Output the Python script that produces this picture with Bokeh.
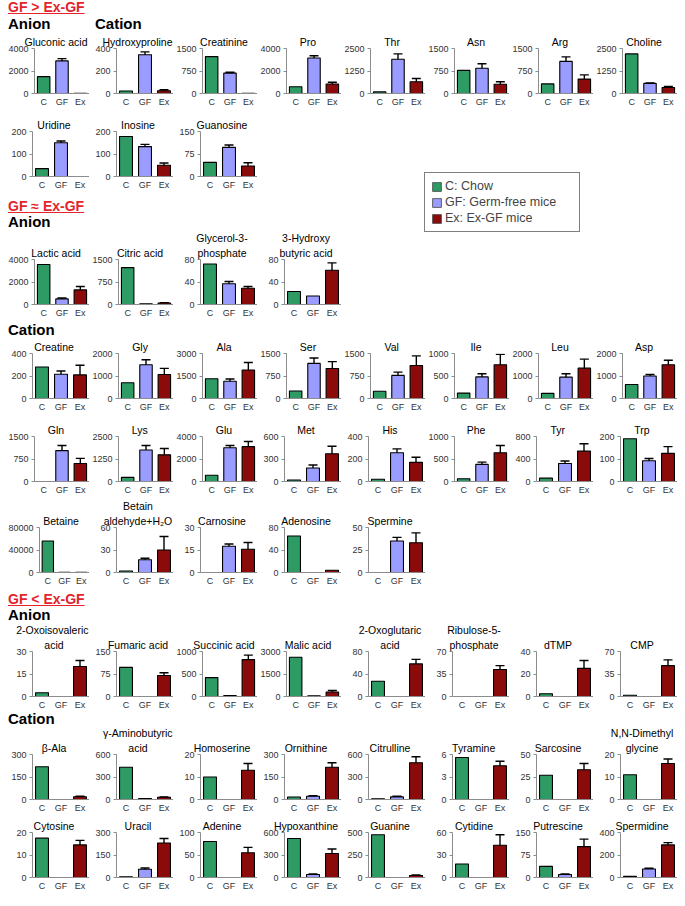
from bokeh.plotting import figure
from bokeh.layouts import column, row
from bokeh.models import (Div, Range1d, FactorRange, FixedTicker, ColumnDataSource, Whisker,
                          TeeHead, Legend, LegendItem, NumeralTickFormatter, Spacer, Title)
from bokeh.embed import file_html
from bokeh.resources import INLINE

FONT = "Liberation Sans"
CATS = ["C", "GF", "Ex"]
COLORS = ["#2e9a64", "#9a9cff", "#8b0a0a"]
LEGEND_LABELS = ["C: Chow", "GF: Germ-free mice", "Ex: Ex-GF mice"]

# ---------------- data ----------------
# GF > Ex-GF
s1r1_names = ["Gluconic acid", "Hydroxyproline", "Creatinine", "Pro", "Thr", "Asn", "Arg", "Choline"]
s1r1_ymax = [4000, 400, 1500, 4000, 2500, 1500, 1500, 2500]
s1r1_C = [1500, 22, 1230, 600, 90, 770, 320, 2200]
s1r1_GF = [2900, 345, 680, 3150, 1900, 840, 1070, 560]
s1r1_Ex = [20, 25, 8, 850, 650, 310, 480, 330]
s1r1_GFerr = [200, 25, 30, 200, 300, 150, 150, 30]
s1r1_Exerr = [0, 8, 0, 150, 180, 80, 140, 60]

s1r2_names = ["Uridine", "Inosine", "Guanosine"]
s1r2_ymax = [200, 200, 150]
s1r2_C = [35, 178, 47]
s1r2_GF = [150, 133, 97]
s1r2_Ex = [0, 50, 35]
s1r2_GFerr = [8, 10, 8]
s1r2_Exerr = [0, 10, 11]

# GF ~ Ex-GF
s2r1_names = ["Lactic acid", "Citric acid", "Glycerol-3-\nphosphate", "3-Hydroxy\nbutyric acid"]
s2r1_ymax = [4000, 1500, 80, 80]
s2r1_C = [3550, 1230, 72, 23]
s2r1_GF = [500, 25, 37, 15]
s2r1_Ex = [1300, 50, 29, 61]
s2r1_GFerr = [80, 0, 4, 0]
s2r1_Exerr = [300, 10, 3, 13]

s2r2_names = ["Creatine", "Gly", "Ala", "Ser", "Val", "Ile", "Leu", "Asp"]
s2r2_ymax = [400, 2000, 3000, 1500, 1500, 1000, 2000, 2000]
s2r2_C = [280, 700, 1320, 250, 240, 120, 230, 620]
s2r2_GF = [215, 1500, 1150, 1170, 770, 480, 950, 1000]
s2r2_Ex = [210, 1070, 1900, 1000, 1100, 750, 1350, 1500]
s2r2_GFerr = [30, 220, 150, 180, 110, 70, 150, 70]
s2r2_Exerr = [85, 270, 500, 230, 320, 230, 400, 200]

s2r3_names = ["Gln", "Lys", "Glu", "Met", "His", "Phe", "Tyr", "Trp"]
s2r3_ymax = [1500, 2500, 4000, 600, 400, 1000, 800, 200]
s2r3_C = [0, 230, 550, 20, 20, 60, 60, 190]
s2r3_GF = [1030, 1750, 3000, 180, 255, 380, 320, 92]
s2r3_Ex = [600, 1480, 3100, 370, 170, 640, 540, 125]
s2r3_GFerr = [170, 250, 200, 40, 35, 50, 45, 10]
s2r3_Exerr = [170, 350, 450, 100, 45, 160, 130, 30]

s2r4_names = ["Betaine", "Betain\naldehyde+H\u2082O", "Carnosine", "Adenosine", "Spermine"]
s2r4_ymax = [80000, 60, 30, 80, 50]
s2r4_C = [56000, 2, 0, 65, 0]
s2r4_GF = [500, 17, 17.5, 0, 35]
s2r4_Ex = [500, 30, 15.5, 4, 33]
s2r4_GFerr = [0, 2, 1.5, 0, 4]
s2r4_Exerr = [0, 18, 4.5, 0, 11]

# GF < Ex-GF
s3r1_names = ["2-Oxoisovaleric\nacid", "Fumaric acid", "Succinic acid", "Malic acid",
              "2-Oxoglutaric\nacid", "Ribulose-5-\nphosphate", "dTMP", "CMP"]
s3r1_ymax = [30, 150, 1000, 3000, 80, 70, 40, 70]
s3r1_C = [2.5, 97, 420, 2620, 27, 0, 2.5, 2]
s3r1_GF = [0, 0, 20, 50, 0, 0, 0, 0]
s3r1_Ex = [20, 70, 820, 300, 58, 42, 25, 48]
s3r1_GFerr = [0, 0, 0, 0, 0, 0, 0, 0]
s3r1_Exerr = [4, 9, 100, 100, 8, 6, 7, 9]

s3r2_names = ["\u03b2-Ala", "\u03b3-Aminobutyric\nacid", "Homoserine", "Ornithine", "Citrulline",
              "Tyramine", "Sarcosine", "N,N-Dimethyl\nglycine"]
s3r2_ymax = [300, 600, 20, 300, 600, 6, 50, 20]
s3r2_C = [218, 430, 10, 17, 10, 5.6, 27, 11]
s3r2_GF = [0, 12, 0, 22, 35, 0, 0, 0]
s3r2_Ex = [18, 30, 13, 215, 490, 4.5, 33, 16]
s3r2_GFerr = [0, 0, 0, 4, 8, 0, 0, 0]
s3r2_Exerr = [4, 5, 3, 30, 80, 0.6, 7, 2]

s3r3_names = ["Cytosine", "Uracil", "Adenine", "Hypoxanthine", "Guanine", "Cytidine", "Putrescine", "Spermidine"]
s3r3_ymax = [20, 300, 100, 600, 500, 60, 150, 400]
s3r3_C = [17.5, 5, 80, 520, 475, 18, 37, 10]
s3r3_GF = [0, 55, 0, 40, 0, 0, 10, 75]
s3r3_Ex = [14.5, 230, 55, 320, 22, 43, 103, 290]
s3r3_GFerr = [0, 8, 0, 8, 0, 0, 2, 7]
s3r3_Exerr = [2, 30, 12, 60, 5, 14, 25, 20]

# ---------------- layout constants ----------------
PW = 84      # panel width
LB = 27      # left border
FW = PW - LB  # frame width
FH = 45      # frame height
BB = 15      # bottom border
TFS = 10.5   # title font size
T1 = 17      # top border, one-line titles
T2 = 30      # top border, two-line titles

# approximate glyph advance widths (per 1000 em) of an Arial-metric font, for centring titles
AW = dict(zip("abcdefghijklmnopqrstuvwxyz",
              [556, 556, 500, 556, 556, 278, 556, 556, 222, 222, 500, 222, 833, 556, 556, 556, 556,
               333, 500, 278, 556, 500, 722, 500, 500, 500]))
AW.update(zip("ABCDEFGHIJKLMNOPQRSTUVWXYZ",
              [667, 667, 722, 722, 667, 611, 778, 722, 278, 500, 667, 556, 833, 722, 778, 667, 778,
               722, 667, 611, 722, 667, 944, 667, 667, 611]))
AW.update({"-": 333, " ": 278, "+": 584, ",": 278, ".": 278, "\u03b2": 575, "\u03b3": 500, "\u2082": 400})


def text_w(s, fs):
    return sum(AW.get(ch, 556) for ch in s) * fs / 1000.0


def add_titles(p, name):
    lines = name.split("\n")
    two = len(lines) > 1
    for k, line in enumerate(reversed(lines)):
        w = text_w(line, TFS)
        left = FW / 2 - 7 - w / 2
        left = min(left, FW - w - 1)
        left = max(left, -LB + 1)
        t = Title(text=line, align="left", offset=left, standoff=(2 if k == 0 else 0),
                  text_font=FONT, text_font_size=f"{TFS}px", text_font_style="normal",
                  text_color="black", text_line_height=(1.0 if two else 1.2))
        p.add_layout(t, "above")


def panel(name, ymax, c, gf, ex, gfe, exe, tb):
    p = figure(width=PW, frame_height=FH, x_range=FactorRange(*CATS), y_range=Range1d(0, ymax),
               output_backend="svg", toolbar_location=None, min_border_left=LB, min_border_right=0,
               min_border_top=tb, min_border_bottom=BB, title=None)
    vals = [c, gf, ex]
    errs = [0, gfe, exe]
    xs = [k for k, v in zip(CATS, vals) if v > 0]
    tops = [v for v in vals if v > 0]
    cols = [col for col, v in zip(COLORS, vals) if v > 0]
    p.vbar(x="x", top="top", width=0.68, fill_color="color", line_color="black", line_width=1.1,
           source=ColumnDataSource(dict(x=xs, top=tops, color=cols)))
    wx = [k for k, v, e in zip(CATS, vals, errs) if e > 0]
    wu = [v + e for v, e in zip(vals, errs) if e > 0]
    wl = [max(v - e, 0) for v, e in zip(vals, errs) if e > 0]
    if wx:
        src = ColumnDataSource(dict(x=wx, upper=wu, lower=wl))
        p.add_layout(Whisker(base="x", upper="upper", lower="lower", source=src,
                             line_color="black", line_width=1.4,
                             upper_head=TeeHead(size=9, line_width=1.4, line_color="black"),
                             lower_head=TeeHead(size=9, line_width=1.4, line_color="black")))
    add_titles(p, name)
    p.grid.visible = False
    p.outline_line_color = None
    p.xaxis.axis_line_color = "#8c8c8c"
    p.xaxis.major_tick_line_color = None
    p.xaxis.major_tick_out = 0
    p.xaxis.major_tick_in = 0
    p.xaxis.minor_tick_line_color = None
    p.xaxis.major_label_text_font = FONT
    p.xaxis.major_label_text_font_size = "9px"
    p.xaxis.major_label_text_color = "#333333"
    p.xaxis.major_label_standoff = 3
    p.yaxis.ticker = FixedTicker(ticks=[0, ymax / 2, ymax])
    p.yaxis.formatter = NumeralTickFormatter(format="0")
    p.yaxis.axis_line_color = "#8c8c8c"
    p.yaxis.major_tick_line_color = "#8c8c8c"
    p.yaxis.major_tick_out = 3
    p.yaxis.major_tick_in = 0
    p.yaxis.minor_tick_line_color = None
    p.yaxis.major_label_text_font = FONT
    p.yaxis.major_label_text_font_size = "9px"
    p.yaxis.major_label_text_color = "#333333"
    p.yaxis.major_label_standoff = 3
    return p


def panel_row(names, ymax, C, GF, Ex, GFerr, Exerr, tb):
    figs = [panel(*args, tb) for args in zip(names, ymax, C, GF, Ex, GFerr, Exerr)]
    return row(*figs, spacing=0)


def heading(txt, w, h):
    return Div(text=f'<div style="font-family:\'{FONT}\';font-weight:bold;font-size:14px;color:#e3242b;'
                    f'text-decoration:underline;line-height:14px;padding-left:3px;white-space:nowrap">{txt}</div>',
               width=w, height=h, margin=0)


def group_label(html, w, h, lh=14):
    return Div(text=f'<div style="position:relative;font-family:\'{FONT}\';font-weight:bold;font-size:15px;'
                    f'color:black;line-height:{lh}px;height:{h}px;padding-left:3px;white-space:nowrap">{html}</div>',
               width=w, height=h, margin=0)


# legend
NAN = float("nan")
lg = figure(width=158, height=68, x_range=Range1d(0, 1), y_range=Range1d(0, 1), output_backend="svg",
            toolbar_location=None, x_axis_location=None, y_axis_location=None, title=None,
            min_border=0, min_border_left=0, min_border_right=0, min_border_top=0, min_border_bottom=0)
lg.grid.visible = False
lg.outline_line_color = None
items = []
for lab, col in zip(LEGEND_LABELS, COLORS):
    r = lg.vbar(x=[NAN], top=[NAN], width=0.5, fill_color=col, line_color="#444444", line_width=0.8)
    items.append(LegendItem(label=lab, renderers=[r]))
leg = Legend(items=items, location="top_left", margin=1, padding=6, spacing=2,
             border_line_color="black", border_line_width=1.5,
             label_text_font=FONT, label_text_font_size="12.5px", label_standoff=3,
             glyph_width=11, glyph_height=11, label_height=14, label_width=128)
lg.add_layout(leg)

LEFTW = 4 * PW
s1 = column(
    heading("GF &gt; Ex-GF", 664, 17),
    group_label('<span style="position:absolute;left:3px">Anion</span>'
                '<span style="position:absolute;left:90px">Cation</span>', 664, 14),
    panel_row(s1r1_names, s1r1_ymax, s1r1_C, s1r1_GF, s1r1_Ex, s1r1_GFerr, s1r1_Exerr, T1),
    spacing=0)

left = column(
    panel_row(s1r2_names, s1r2_ymax, s1r2_C, s1r2_GF, s1r2_Ex, s1r2_GFerr, s1r2_Exerr, 22),
    Spacer(width=10, height=7, margin=0),
    heading("GF \u2248 Ex-GF", LEFTW, 16),
    group_label("Anion", LEFTW, 14),
    panel_row(s2r1_names, s2r1_ymax, s2r1_C, s2r1_GF, s2r1_Ex, s2r1_GFerr, s2r1_Exerr, T2),
    spacing=0)
right = column(Spacer(width=10, height=62, margin=0), lg, spacing=0)
blockB = row(left, Spacer(width=424 - 5 - LEFTW - 1, height=10, margin=0), right, spacing=0)

s2 = column(
    group_label("Cation", 664, 16, lh=20),
    panel_row(s2r2_names, s2r2_ymax, s2r2_C, s2r2_GF, s2r2_Ex, s2r2_GFerr, s2r2_Exerr, T1),
    panel_row(s2r3_names, s2r3_ymax, s2r3_C, s2r3_GF, s2r3_Ex, s2r3_GFerr, s2r3_Exerr, 22),
    panel_row(s2r4_names, s2r4_ymax, s2r4_C, s2r4_GF, s2r4_Ex, s2r4_GFerr, s2r4_Exerr, T2),
    spacing=0)

s3 = column(
    Spacer(width=10, height=4, margin=0),
    heading("GF &lt; Ex-GF", 664, 16),
    group_label("Anion", 664, 13),
    panel_row(s3r1_names, s3r1_ymax, s3r1_C, s3r1_GF, s3r1_Ex, s3r1_GFerr, s3r1_Exerr, T2),
    group_label("Cation", 664, 12),
    panel_row(s3r2_names, s3r2_ymax, s3r2_C, s3r2_GF, s3r2_Ex, s3r2_GFerr, s3r2_Exerr, T2),
    panel_row(s3r3_names, s3r3_ymax, s3r3_C, s3r3_GF, s3r3_Ex, s3r3_GFerr, s3r3_Exerr, T1),
    spacing=0)

page = row(Spacer(width=5, height=10, margin=0), column(s1, blockB, s2, s3, spacing=0), spacing=0)

open("out.html", "w").write(file_html(page, INLINE, title="Metabolites"))
